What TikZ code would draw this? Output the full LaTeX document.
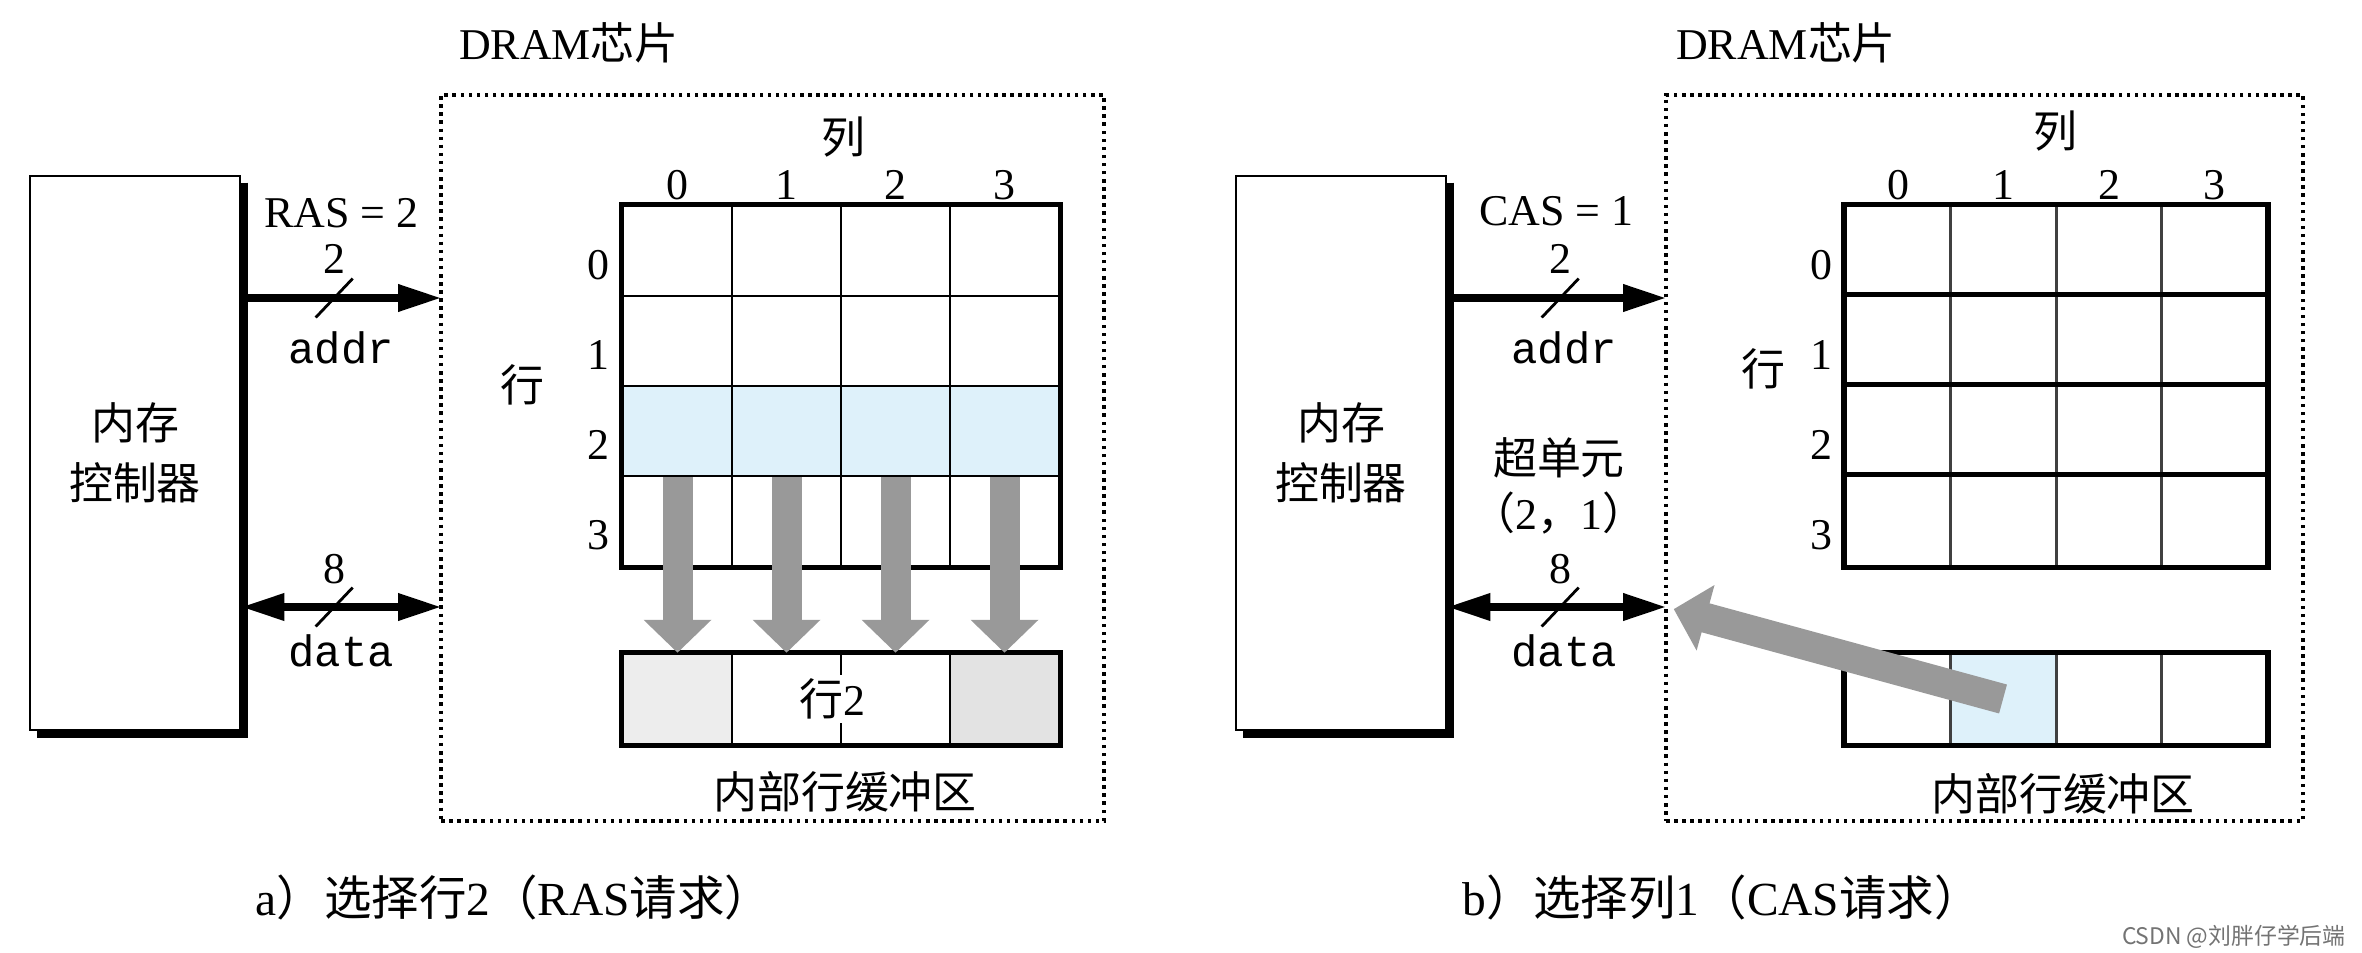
\documentclass[tikz,border=0pt]{standalone}
\usepackage{fontspec}
\setmainfont{Liberation Serif}
\setmonofont{Liberation Mono}
\newfontfamily\cjk{Noto Sans CJK SC}
\usetikzlibrary{arrows.meta}
\definecolor{rowblue}{RGB}{222,241,250}

\begin{document}
\begin{tikzpicture}[font=\fontsize{12.5}{14}\selectfont,ctrl/.style={draw=black, line width=0.8pt, minimum width=2.1cm, minimum height=5.54cm, align=center, font=\fontsize{12.5}{17}\selectfont\cjk},ctrlshadow/.style={line width=2pt},chip/.style={draw=black, line width=1pt, dash pattern=on 1pt off 1.3pt, minimum height=7.26cm},cella/.style={draw=black, line width=0.7pt, minimum width=1.09cm, minimum height=0.9cm, inner sep=0pt},cellb/.style={cella, draw=black!75, minimum width=1.055cm},gridframe/.style={line width=1.5pt},rowsep/.style={line width=1.3pt},bus/.style={line width=2pt, -{Triangle[length=4.3mm,width=2.6mm]}},dbus/.style={line width=2pt, {Triangle[length=4.3mm,width=2.6mm]}-{Triangle[length=4.3mm,width=2.6mm]}},busslash/.style={line width=0.8pt},copyarrow/.style={draw=black!40, line width=3mm, -{Triangle[length=3.3mm,width=6.6mm]}},caption/.style={font=\fontsize{13.5}{16}\selectfont}]
\useasboundingbox (0,0) rectangle (23.62,9.52);
\node[ctrl] (ctrlA) at (1.35,4.99) {内存\\控制器};
\draw[ctrlshadow] ([shift={(0.035,-0.08)}]ctrlA.north east) |- ([shift={(0.08,-0.035)}]ctrlA.south west);
\node[chip, minimum width=6.63cm] (chipA) at (7.725,4.94) {};
\node (titleA) at (5.69,9.09) {DRAM{\cjk 芯片}};
\node[cella] (a00) at (6.775,7.01) {};\node[cella] (a01) at (7.865,7.01) {};\node[cella] (a02) at (8.955,7.01) {};\node[cella] (a03) at (10.045,7.01) {};
\node[cella] (a10) at (6.775,6.11) {};\node[cella] (a11) at (7.865,6.11) {};\node[cella] (a12) at (8.955,6.11) {};\node[cella] (a13) at (10.045,6.11) {};
\node[cella, fill=rowblue] (a20) at (6.775,5.21) {};\node[cella, fill=rowblue] (a21) at (7.865,5.21) {};\node[cella, fill=rowblue] (a22) at (8.955,5.21) {};\node[cella, fill=rowblue] (a23) at (10.045,5.21) {};
\node[cella] (a30) at (6.775,4.31) {};\node[cella] (a31) at (7.865,4.31) {};\node[cella] (a32) at (8.955,4.31) {};\node[cella] (a33) at (10.045,4.31) {};
\node[cella, fill=gray!14] (bufa0) at (6.775,2.53) {};\node[cella] (bufa1) at (7.865,2.53) {};\node[cella] (bufa2) at (8.955,2.53) {};\node[cella, fill=gray!22] (bufa3) at (10.045,2.53) {};
\draw[gridframe] (a00.north west) rectangle (a33.south east);
\draw[gridframe] (bufa0.north west) rectangle (bufa3.south east);
\node (colA) at (8.43,8.15) {\cjk 列};
\node (colA0) at ([yshift=0.2cm]a00.north) {0};\node (colA1) at ([yshift=0.2cm]a01.north) {1};\node (colA2) at ([yshift=0.2cm]a02.north) {2};\node (colA3) at ([yshift=0.2cm]a03.north) {3};
\node (rowA) at (5.22,5.67) {\cjk 行};
\node (rowA0) at ([shift={(-0.23,-0.14)}]a00.west) {0};\node (rowA1) at ([shift={(-0.23,-0.14)}]a10.west) {1};\node (rowA2) at ([shift={(-0.23,-0.14)}]a20.west) {2};\node (rowA3) at ([shift={(-0.23,-0.14)}]a30.west) {3};
\draw[copyarrow] (a20.south) -- (bufa0.north);\draw[copyarrow] (a21.south) -- (bufa1.north);\draw[copyarrow] (a22.south) -- (bufa2.north);\draw[copyarrow] (a23.south) -- (bufa3.north);
\node[fill=white, inner sep=1pt] (bufrowA) at ([xshift=-0.1cm]bufa1.east) {{\cjk 行}2};
\node (bufnameA) at (8.45,1.6) {\cjk 内部行缓冲区};
\coordinate (addrA) at (4.41,6.54);\coordinate (dataA) at (4.41,3.45);
\draw[bus] (addrA -| ctrlA.east) -- (addrA) coordinate[pos=0.465] (slashA);
\draw[busslash] ([shift={(-0.185,-0.195)}]slashA) -- ([shift={(0.185,0.195)}]slashA);
\node (widthA) at ([yshift=0.39cm]slashA) {2};\node (addrlabA) at ([shift={(0.07,-0.5)}]slashA) {\texttt{addr}};\node (rasA) at ([shift={(0.07,0.85)}]slashA) {RAS = 2};
\draw[dbus] (dataA -| ctrlA.east) -- (dataA) coordinate[pos=0.465] (slashDA);
\draw[busslash] ([shift={(-0.185,-0.195)}]slashDA) -- ([shift={(0.185,0.195)}]slashDA);
\node (widthDA) at ([yshift=0.38cm]slashDA) {8};\node (datalabA) at ([shift={(0.07,-0.44)}]slashDA) {\texttt{data}};
\node[caption] (capA) at (5.14,0.55) {a{\cjk ）选择行}2{\cjk （}RAS{\cjk 请求）}};
\node[ctrl] (ctrlB) at (13.41,4.99) {内存\\控制器};
\draw[ctrlshadow] ([shift={(0.035,-0.08)}]ctrlB.north east) |- ([shift={(0.08,-0.035)}]ctrlB.south west);
\node[chip, minimum width=6.37cm] (chipB) at (19.845,4.94) {};
\node (titleB) at (17.86,9.09) {DRAM{\cjk 芯片}};
\node[cellb] (b00) at (18.98,7.01) {};\node[cellb] (b01) at (20.03,7.01) {};\node[cellb] (b02) at (21.09,7.01) {};\node[cellb] (b03) at (22.14,7.01) {};
\node[cellb] (b10) at (18.98,6.11) {};\node[cellb] (b11) at (20.03,6.11) {};\node[cellb] (b12) at (21.09,6.11) {};\node[cellb] (b13) at (22.14,6.11) {};
\node[cellb] (b20) at (18.98,5.21) {};\node[cellb] (b21) at (20.03,5.21) {};\node[cellb] (b22) at (21.09,5.21) {};\node[cellb] (b23) at (22.14,5.21) {};
\node[cellb] (b30) at (18.98,4.31) {};\node[cellb] (b31) at (20.03,4.31) {};\node[cellb] (b32) at (21.09,4.31) {};\node[cellb] (b33) at (22.14,4.31) {};
\node[cellb] (bufb0) at (18.98,2.53) {};\node[cellb, fill=rowblue] (bufb1) at (20.03,2.53) {};\node[cellb] (bufb2) at (21.09,2.53) {};\node[cellb] (bufb3) at (22.14,2.53) {};
\draw[rowsep] (b10.north west) -- (b13.north east);\draw[rowsep] (b20.north west) -- (b23.north east);\draw[rowsep] (b30.north west) -- (b33.north east);
\draw[gridframe] (b00.north west) rectangle (b33.south east);
\draw[gridframe] (bufb0.north west) rectangle (bufb3.south east);
\node (colB) at (20.55,8.21) {\cjk 列};
\node (colB0) at ([yshift=0.2cm]b00.north) {0};\node (colB1) at ([yshift=0.2cm]b01.north) {1};\node (colB2) at ([yshift=0.2cm]b02.north) {2};\node (colB3) at ([yshift=0.2cm]b03.north) {3};
\node (rowB) at (17.63,5.83) {\cjk 行};
\node (rowB0) at ([shift={(-0.23,-0.14)}]b00.west) {0};\node (rowB1) at ([shift={(-0.23,-0.14)}]b10.west) {1};\node (rowB2) at ([shift={(-0.23,-0.14)}]b20.west) {2};\node (rowB3) at ([shift={(-0.23,-0.14)}]b30.west) {3};
\node (bufnameB) at (20.63,1.58) {\cjk 内部行缓冲区};
\coordinate (addrB) at (16.66,6.54);\coordinate (dataB) at (16.66,3.45);
\draw[bus] (addrB -| ctrlB.east) -- (addrB) coordinate[pos=0.516] (slashB);
\draw[busslash] ([shift={(-0.185,-0.195)}]slashB) -- ([shift={(0.185,0.195)}]slashB);
\node (widthB) at ([yshift=0.39cm]slashB) {2};\node (addrlabB) at ([shift={(0.04,-0.5)}]slashB) {\texttt{addr}};\node (casB) at ([shift={(-0.04,0.87)}]slashB) {CAS = 1};
\draw[dbus] (dataB -| ctrlB.east) -- (dataB) coordinate[pos=0.516] (slashDB);
\draw[busslash] ([shift={(-0.185,-0.195)}]slashDB) -- ([shift={(0.185,0.195)}]slashDB);
\node (widthDB) at ([yshift=0.38cm]slashDB) {8};\node (datalabB) at ([shift={(0.04,-0.44)}]slashDB) {\texttt{data}};
\node (superB) at (15.59,4.94) {\cjk 超单元};\node (superidxB) at (15.59,4.39) {{\cjk （}2{\cjk ，}1{\cjk ）}};
\draw[copyarrow, shorten >=0.08cm] (bufb1.center) -- (dataB);
\node[caption] (capB) at (17.22,0.55) {b{\cjk ）选择列}1{\cjk （}CAS{\cjk 请求）}};
\node[anchor=east, text=black!55, font=\fontsize{6.5}{8}\selectfont\cjk] (mark) at (23.58,0.15) {CSDN @刘胖仔学后端};
\end{tikzpicture}
\end{document}
